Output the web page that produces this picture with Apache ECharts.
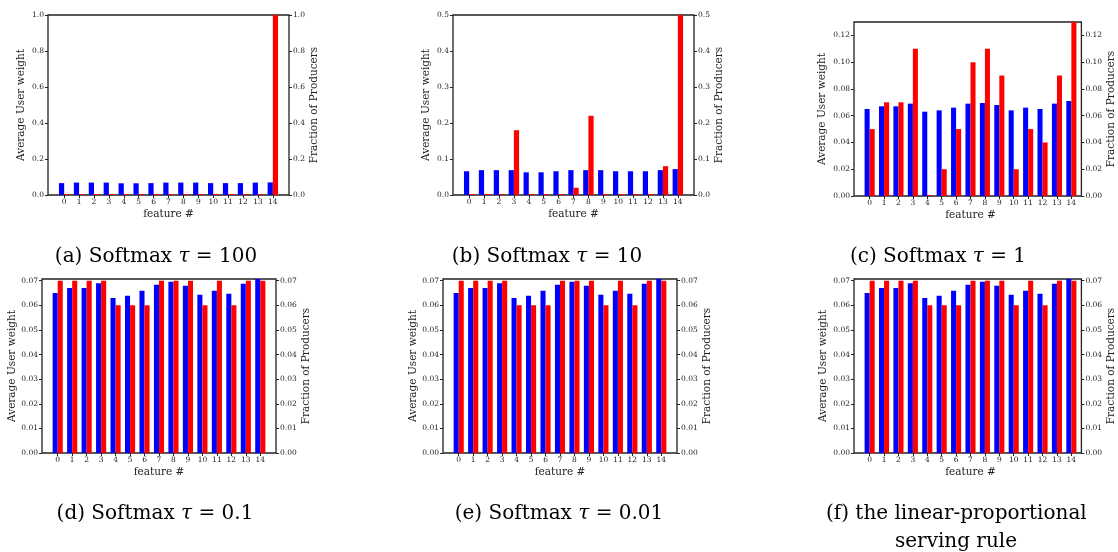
<!DOCTYPE html>
<html>
<head>
<meta charset="utf-8">
<script src="https://cdn.jsdelivr.net/npm/echarts@6/dist/echarts.min.js"></script>
<style>
  html, body { margin: 0; padding: 0; background: #fff; }
  #main { width: 1118px; height: 552px; }
</style>
</head>
<body>
<div id="main"></div>
<script>
var features = ['0', '1', '2', '3', '4', '5', '6', '7', '8', '9', '10', '11', '12', '13', '14'];

// (a) softmax tau = 100
var userA = [0.066, 0.069, 0.069, 0.069, 0.065, 0.065, 0.066, 0.069, 0.069, 0.069, 0.066, 0.066, 0.066, 0.069, 0.070];
var prodA = [0, 0, 0, 0, 0, 0, 0, 0, 0, 0, 0, 0, 0, 0, 1.0];
// (b) softmax tau = 10
var userB = [0.066, 0.069, 0.069, 0.069, 0.063, 0.063, 0.066, 0.069, 0.069, 0.069, 0.066, 0.066, 0.066, 0.069, 0.072];
var prodB = [0, 0, 0, 0.18, 0, 0, 0, 0.02, 0.22, 0, 0, 0, 0, 0.08, 0.5];
// (c) softmax tau = 1
var userC = [0.065, 0.067, 0.067, 0.069, 0.063, 0.064, 0.066, 0.069, 0.0695, 0.068, 0.064, 0.066, 0.065, 0.069, 0.071];
var prodC = [0.05, 0.07, 0.07, 0.11, 0, 0.02, 0.05, 0.10, 0.11, 0.09, 0.02, 0.05, 0.04, 0.09, 0.13];
// (d) softmax tau = 0.1
var userD = [0.065, 0.067, 0.067, 0.069, 0.063, 0.0639, 0.0659, 0.0684, 0.0696, 0.068, 0.0643, 0.0659, 0.0647, 0.0688, 0.0707];
var prodD = [0.07, 0.07, 0.07, 0.07, 0.06, 0.06, 0.06, 0.07, 0.07, 0.07, 0.06, 0.07, 0.06, 0.07, 0.07];
// (e) softmax tau = 0.01
var userE = [0.065, 0.067, 0.067, 0.069, 0.063, 0.0639, 0.0659, 0.0684, 0.0696, 0.068, 0.0643, 0.0659, 0.0647, 0.0688, 0.0707];
var prodE = [0.07, 0.07, 0.07, 0.07, 0.06, 0.06, 0.06, 0.07, 0.07, 0.07, 0.06, 0.07, 0.06, 0.07, 0.07];
// (f) linear-proportional
var userF = [0.065, 0.067, 0.067, 0.069, 0.063, 0.0639, 0.0659, 0.0684, 0.0696, 0.068, 0.0643, 0.0659, 0.0647, 0.0688, 0.0707];
var prodF = [0.07, 0.07, 0.07, 0.07, 0.06, 0.06, 0.06, 0.07, 0.07, 0.07, 0.06, 0.07, 0.06, 0.07, 0.07];

var captions = [
  '(a) Softmax {t|τ} = 100',
  '(b) Softmax {t|τ} = 10',
  '(c) Softmax {t|τ} = 1',
  '(d) Softmax {t|τ} = 0.1',
  '(e) Softmax {t|τ} = 0.01',
  '(f) the linear-proportional',
  'serving rule'
];

// frame = [left, top, right, bottom] in px, gap = [left name, right name]
var panels = [
  { frame: [48, 15, 289, 195], max: 1.0, step: 0.2, digits: 1, hideMax: false, gap: [21, 19], user: userA, prod: prodA },
  { frame: [453, 15, 694, 195], max: 0.5, step: 0.1, digits: 1, hideMax: false, gap: [21, 19], user: userB, prod: prodB },
  { frame: [854, 22, 1087, 196], max: 0.13, step: 0.02, digits: 2, hideMax: true, gap: [26, 24], user: userC, prod: prodC },
  { frame: [42, 279, 276, 453], max: 0.0707, step: 0.01, digits: 2, hideMax: true, gap: [24, 24], user: userD, prod: prodD },
  { frame: [443, 279, 677, 453], max: 0.0707, step: 0.01, digits: 2, hideMax: true, gap: [21, 25], user: userE, prod: prodE },
  { frame: [854, 279, 1087, 453], max: 0.0707, step: 0.01, digits: 2, hideMax: true, gap: [25, 24], user: userF, prod: prodF }
];

// caption anchors: [x, top, align]
var captionPos = [
  [156, 247, 'center'], [547, 247, 'center'], [938, 247, 'center'],
  [155, 504, 'center'], [559, 504, 'center'], [826, 504, 'left'], [956, 532, 'center']
];

var serif = 'DejaVu Serif';
var ink = '#222';

function axisText(size) {
  return { fontFamily: serif, fontSize: size, color: ink };
}

var grids = [], xAxes = [], yAxes = [], series = [];

panels.forEach(function (p, i) {
  var left = p.frame[0], top = p.frame[1];
  var w = p.frame[2] - p.frame[0], h = p.frame[3] - p.frame[1];
  var cw = w / 16.17; // matplotlib xlim ~ [-1.085, 15.085]

  // outer frame
  grids.push({ left: left, top: top, width: w, height: h, show: true, borderColor: ink, borderWidth: 1.3, backgroundColor: 'rgba(0,0,0,0)' });
  // inner band holding the 15 categories
  grids.push({ left: left + 0.585 * cw, top: top, width: 15 * cw, height: h });

  xAxes.push({ gridIndex: 2 * i, type: 'value', show: false });
  xAxes.push({
    gridIndex: 2 * i + 1,
    type: 'category',
    data: features,
    axisLine: { show: false },
    axisTick: { show: true, alignWithLabel: true, length: 3, lineStyle: { color: ink, width: 1 } },
    axisLabel: Object.assign({ margin: 3, interval: 0 }, axisText(7.5)),
    name: 'feature #',
    nameLocation: 'middle',
    nameGap: 14,
    nameTextStyle: axisText(10.5)
  });

  var labelFmt = function (v) { return v.toFixed(p.digits); };
  ['left', 'right'].forEach(function (pos, k) {
    yAxes.push({
      gridIndex: 2 * i,
      type: 'value',
      position: pos,
      min: 0,
      max: p.max,
      interval: p.step,
      splitLine: { show: false },
      axisLine: { show: false },
      axisTick: { show: true, length: 3, lineStyle: { color: ink, width: 1 } },
      axisLabel: Object.assign({ margin: 4, showMaxLabel: !p.hideMax, formatter: labelFmt }, axisText(7.5)),
      name: k === 0 ? 'Average User weight' : 'Fraction of Producers',
      nameLocation: 'middle',
      nameGap: p.gap[k],
      nameTextStyle: axisText(10.5)
    });
  });
  yAxes.push({ gridIndex: 2 * i + 1, type: 'value', min: 0, max: p.max, show: false });

  series.push({
    type: 'bar',
    xAxisIndex: 2 * i + 1,
    yAxisIndex: 3 * i + 2,
    data: p.user,
    barWidth: '35%',
    barGap: '0%',
    itemStyle: { color: '#0000ff' }
  });
  series.push({
    type: 'bar',
    xAxisIndex: 2 * i + 1,
    yAxisIndex: 3 * i + 2,
    data: p.prod,
    barWidth: '35%',
    barGap: '0%',
    barMinHeight: 1,
    itemStyle: { color: '#ff0000' }
  });
});

var titles = captions.map(function (txt, i) {
  var c = captionPos[i];
  return {
    text: txt,
    left: c[0],
    top: c[1],
    textAlign: c[2],
    padding: 0,
    textStyle: {
      fontFamily: serif,
      fontSize: 20,
      fontWeight: 'normal',
      color: '#000',
      rich: {
        t: { fontFamily: serif, fontSize: 20, fontStyle: 'italic', color: '#000' }
      }
    }
  };
});

var chart = echarts.init(document.getElementById('main'));
chart.setOption({
  backgroundColor: '#fff',
  animation: false,
  title: titles,
  grid: grids,
  xAxis: xAxes,
  yAxis: yAxes,
  series: series
});
</script>
</body>
</html>
